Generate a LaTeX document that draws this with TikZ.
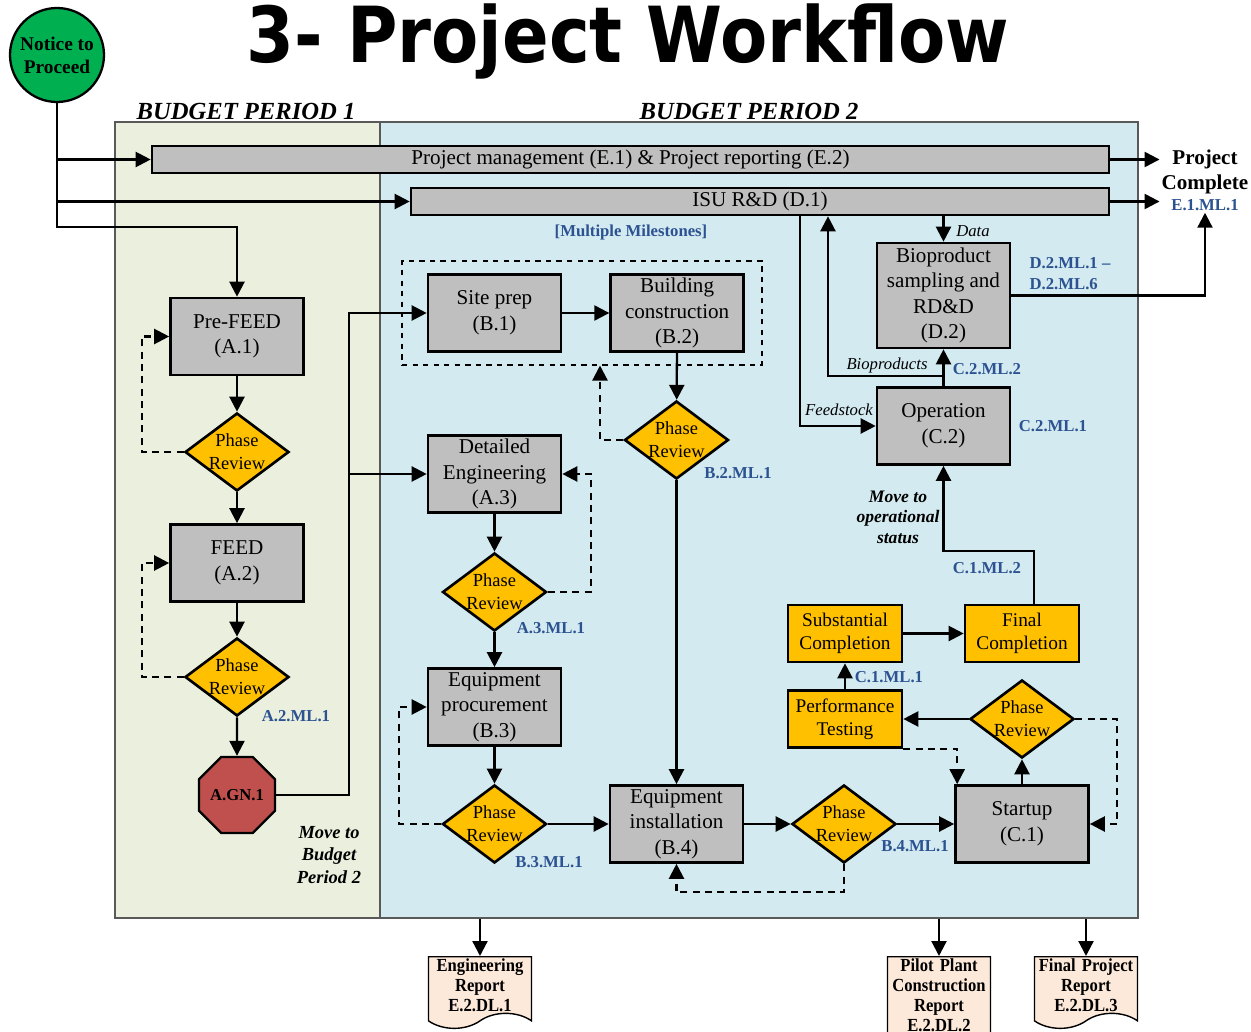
\documentclass[tikz,border=0pt]{standalone}
\usepackage{fontspec}
\setmainfont{Liberation Serif}
\newfontfamily\titlefont[FakeStretch=0.89]{DejaVu Sans}
\newfontfamily\docfont[FakeStretch=0.9]{Liberation Serif}
\usetikzlibrary{positioning, calc, shapes.geometric, shapes.symbols, arrows.meta}
\definecolor{boxgray}{RGB}{191,191,191}
\definecolor{phase}{RGB}{255,192,0}
\definecolor{go}{RGB}{0,176,80}
\definecolor{stop}{RGB}{192,80,77}
\definecolor{bpone}{RGB}{235,240,222}
\definecolor{bptwo}{RGB}{211,234,240}
\definecolor{msblue}{RGB}{44,82,145}
\definecolor{docfill}{RGB}{253,233,217}

\begin{document}
\begin{tikzpicture}[x=0.2mm, y=-0.2mm,
block/.style={rectangle,draw,line width=1.5pt,fill=boxgray,minimum width=26.6mm,minimum height=15.4mm,align=center,inner sep=1pt,font=\fontsize{12}{14.5}\selectfont},
block2/.style={rectangle,draw,line width=1.5pt,fill=phase,minimum width=22.8mm,minimum height=11.4mm,align=center,inner sep=1pt,font=\fontsize{11}{13}\selectfont},
bar/.style={rectangle,draw,line width=1.5pt,fill=boxgray,minimum height=5.4mm,inner sep=0pt,font=\fontsize{12}{14}\selectfont},
review/.style={diamond,draw,line width=1.5pt,fill=phase,minimum width=20.8mm,minimum height=15.6mm,inner sep=0pt,label={[font=\fontsize{10.5}{13}\selectfont,align=center]center:Phase\\Review}},
period/.style={rectangle,draw=black!65,line width=0.9pt,inner sep=0pt,minimum height=159.2mm},
ms/.style={text=msblue,align=left,inner sep=1pt,font=\bfseries\fontsize{9.5}{12}\selectfont},
note/.style={align=center,inner sep=1pt,font=\bfseries\itshape\fontsize{10}{11.6}\selectfont},
flow/.style={inner sep=1pt,font=\itshape\fontsize{9.5}{11}\selectfont},
doc/.style={tape,tape bend top=none,tape bend height=3mm,draw,line width=0.8pt,fill=docfill,minimum width=20.6mm,text width=19.6mm,align=center,anchor=north,inner sep=1pt,font=\docfont\bfseries\fontsize{10.5}{11.4}\selectfont},
link/.style={line width=1.3pt,-{Triangle[length=3mm,width=3mm]}},
dlink/.style={link,dash pattern=on 4pt off 3pt}]
\useasboundingbox (0,0) rectangle (1251,1032);
\node (bp1) [period, minimum width=53mm, fill=bpone] at (247.5,520) {};
\node (bp2) [period, minimum width=151.6mm, fill=bptwo] at (759,520) {};
\node (title) [font=\titlefont\bfseries\fontsize{44}{46}\selectfont] at (628,41) {3- Project Workflow};
\node (p1) [font=\bfseries\itshape\fontsize{14}{16}\selectfont] at (246,111) {BUDGET PERIOD 1};
\node (p2) [font=\bfseries\itshape\fontsize{14}{16}\selectfont] at (749,111) {BUDGET PERIOD 2};
\node (ntp) [circle,draw,line width=1.3pt,fill=go,minimum size=18.8mm,inner sep=0pt,align=center,font=\bfseries\fontsize{11}{13}\selectfont] at (57,55) {Notice to\\Proceed};
\node (e1) [bar, minimum width=191.4mm] at (630.5,159.5) {Project management (E.1) \& Project reporting (E.2)};
\node (d1) [bar, minimum width=139.6mm] at (760,201.5) {ISU R\&D (D.1)};
\node (pc) [align=center,inner sep=1pt,font=\bfseries\fontsize{12}{14.7}\selectfont] at (1205,172) {Project\\Complete};
\node (eml) [ms] at (1205,205) {E.1.ML.1};
\node (mm) [ms] at (631,232) {[Multiple Milestones]};

\node (a1) [block] at (237,336.5) {Pre-FEED\\(A.1)};
\node (pr1) [review] at (237,452) {};
\node (a2) [block] at (237,563) {FEED\\(A.2)};
\node (pr2) [review] at (237,677) {};
\node (gn) [regular polygon,regular polygon sides=8,draw,line width=1.3pt,fill=stop,minimum size=16.2mm,inner sep=0pt,font=\bfseries\fontsize{9.5}{11}\selectfont] at (237,795) {A.GN.1};

\node (grp) [rectangle,draw,dashed,line width=0.6pt,minimum width=72mm,minimum height=20.8mm,inner sep=0pt] at (582,313) {};
\node (b1) [block] at (494.5,313) {Site prep\\(B.1)};
\node (b2) [block, right=9.4mm of b1] {Building\\construction\\(B.2)};
\node (pr3) [review] at (676.5,440) {};
\node (a3) [block] at (494.5,474) {Detailed\\Engineering\\(A.3)};
\node (pr4) [review] at (494.5,592) {};
\node (b3) [block] at (494.5,707) {Equipment\\procurement\\(B.3)};
\node (pr5) [review] at (494.5,824) {};
\node (b4) [block] at (676.5,824) {Equipment\\installation\\(B.4)};
\node (pr6) [review] at (844,824) {};
\node (c1) [block] at (1022,824) {Startup\\(C.1)};
\node (pr7) [review] at (1022,719) {};
\node (pt) [block2] at (845,719) {Performance\\Testing};
\node (sc) [block2] at (845,633.5) {Substantial\\Completion};
\node (fc) [block2] at (1022,633.5) {Final\\Completion};
\node (c2) [block] at (943.5,426) {Operation\\(C.2)};
\node (d2) [block, minimum height=21mm] at (943.5,295.5) {Bioproduct\\sampling and\\RD\&D\\(D.2)};

\node (r1) [doc] at (480,956) {Engineering\\Report\\E.2.DL.1};
\node (r2) [doc] at (939,956) {Pilot Plant\\Construction\\Report\\E.2.DL.2};
\node (r3) [doc] at (1086,956) {Final Project\\Report\\E.2.DL.3};

\begin{scope}
  \draw [link] (ntp.south |- e1.west) -- (e1.west);
  \draw [link] (ntp.south |- d1.west) -- (d1.west);
  \draw [link] (ntp.south) |- ($(a1.north)+(0,-70)$) -- (a1.north);
  \draw [link] (e1.east) -- (e1.east -| pc.west);
  \draw [link] (d1.east) -- (d1.east -| pc.west);
  \draw [link] (d2.east) -| (eml.south);

  \draw [link] (a1) -- (pr1);
  \draw [link] (pr1) -- (a2);
  \draw [link] (a2) -- (pr2);
  \draw [link] (pr2) -- (gn);
  \draw [dlink] (pr1.west) -- ++(-42,0) |- (a1.west);
  \draw [dlink] (pr2.west) -- ++(-42,0) |- (a2.west);
  \node (ml1) [ms] at (296,716) {A.2.ML.1};
  \node (mv1) [note, font=\bfseries\itshape\fontsize{10.5}{13}\selectfont] at (329,855) {Move to\\Budget\\Period 2};
  \draw [link] (gn.east) -- ++(73,0) coordinate (gj) |- (b1.west);
  \draw [link] (gj |- a3.west) -- (a3.west);

  \draw [link] (b1) -- (b2);
  \draw [link] (b2) -- (pr3);
  \draw [link] (pr3) -- (b4);
  \draw [dlink] (pr3.west) -| ($(grp.south)+(18,0)$);
  \node (ml2) [ms] at (738,473) {B.2.ML.1};

  \draw [link] (a3) -- (pr4);
  \draw [link] (pr4) -- (b3);
  \draw [dlink] (pr4.east) -- ++(43,0) |- (a3.east);
  \node (ml3) [ms] at (551,628) {A.3.ML.1};
  \draw [link] (b3) -- (pr5);
  \draw [link] (pr5) -- (b4);
  \draw [dlink] (pr5.west) -- ++(-42,0) |- (b3.west);
  \node (ml4) [ms] at (549,862) {B.3.ML.1};

  \draw [link] (b4) -- (pr6);
  \draw [link] (pr6) -- (c1);
  \draw [dlink] (pr6.south) -- ++(0,28) -| (b4.south);
  \node (ml5) [ms] at (915,846) {B.4.ML.1};

  \draw [link] (c1) -- (pr7);
  \draw [link] (pr7) -- (pt);
  \draw [dlink] (pr7.east) -- ++(42,0) |- (c1.east);
  \draw [dlink] (pt.south east) -| ($(c1.north west)+(3,0)$);
  \draw [link] (pt) -- (sc);
  \node (ml6) [ms] at (889,677) {C.1.ML.1};
  \draw [link] (sc) -- (fc);
  \draw [link] ($(fc.north)+(12,0)$) |- ($(c2.south)+(0,85)$) -- (c2.south);
  \node (ml7) [ms] at (987,568) {C.1.ML.2};
  \node (mv2) [note] at (898,517) {Move to\\operational\\status};

  \node (ml8) [ms] at (1053,426) {C.2.ML.1};
  \draw [link] (c2) -- (d2);
  \node (ml9) [ms] at (987,369) {C.2.ML.2};
  \draw [link] ($(c2.north)+(0,-10)$) -| ($(d1.south)+(68,0)$);
  \node (f1) [flow] at (887,365) {Bioproducts};
  \draw [link] (d1.south -| d2.north) -- (d2.north);
  \node (f2) [flow] at (973,231) {Data};
  \draw [link] ($(d1.south)+(40,0)$) |- (c2.west);
  \node (f3) [flow] at (839,410) {Feedstock};
  \node (ml10) [ms] at (1070,274) {D.2.ML.1 --\\D.2.ML.6};

  \draw [link] (bp2.south -| r1.north) -- (r1.north);
  \draw [link] (bp2.south -| r2.north) -- (r2.north);
  \draw [link] (bp2.south -| r3.north) -- (r3.north);
\end{scope}
\end{tikzpicture}
\end{document}
